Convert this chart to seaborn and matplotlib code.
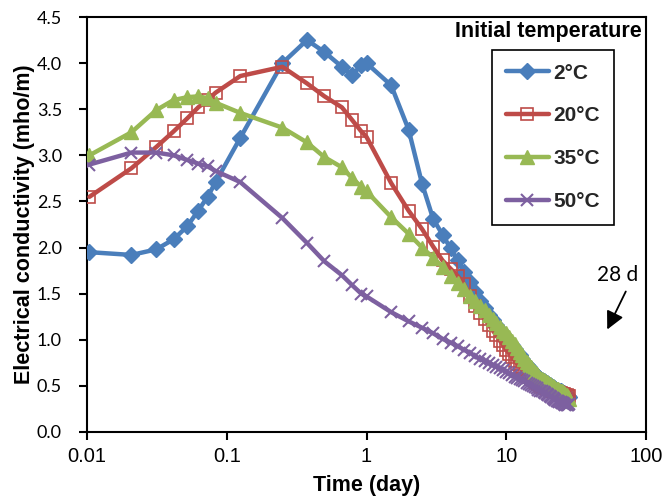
import numpy as np
import pandas as pd
import matplotlib
matplotlib.use("Agg")
import matplotlib.pyplot as plt
import seaborn as sns
from matplotlib.lines import Line2D
from matplotlib.ticker import NullLocator, FixedLocator, FixedFormatter, FormatStrFormatter

# ---------------- data ----------------
time_days = [0.0104, 0.0208, 0.0313, 0.0417, 0.0521, 0.0625, 0.0729, 0.0833,
             0.125, 0.25, 0.375, 0.5, 0.667, 0.792, 0.917, 1.0,
             1.5, 2.0, 2.5, 3.0, 3.5, 4.0, 4.5, 5.0, 5.5, 6.0, 6.5, 7.0, 7.5,
             8.0, 8.5, 9.0, 9.5, 10.0, 10.5, 11.0, 11.5, 12.0, 12.5, 13.0,
             13.5, 14.0, 14.5, 15.0, 15.5, 16.0, 16.5, 17.0, 17.5, 18.0, 18.5,
             19.0, 19.5, 20.0, 20.5, 21.0, 21.5, 22.0, 22.5, 23.0, 23.5, 24.0,
             24.5, 25.0, 25.5, 26.0, 26.5, 27.0, 27.5, 28.0]

ec_2C = [1.95, 1.92, 1.98, 2.09, 2.23, 2.40, 2.55, 2.71, 3.19, 4.00, 4.25, 4.12,
         3.96, 3.87, 3.98, 4.00,
         3.76, 3.28, 2.69, 2.31, 2.14, 1.99, 1.86, 1.74, 1.63, 1.52, 1.42, 1.34,
         1.27, 1.21, 1.16, 1.11, 1.06, 1.02, 0.98, 0.94, 0.90, 0.86, 0.83, 0.79,
         0.76, 0.73, 0.70, 0.67, 0.65, 0.63, 0.61, 0.59, 0.57, 0.56, 0.55, 0.54,
         0.53, 0.52, 0.51, 0.50, 0.49, 0.48, 0.47, 0.46, 0.45, 0.45, 0.44, 0.43,
         0.42, 0.42, 0.41, 0.40, 0.39, 0.38]

ec_20C = [2.55, 2.86, 3.09, 3.26, 3.40, 3.52, 3.60, 3.68, 3.86, 3.96, 3.78, 3.64,
          3.52, 3.38, 3.26, 3.20,
          2.70, 2.40, 2.20, 2.01, 1.86, 1.77, 1.69, 1.60, 1.48, 1.37, 1.29, 1.23,
          1.16, 1.10, 1.05, 0.99, 0.94, 0.89, 0.85, 0.81, 0.77, 0.74, 0.71, 0.68,
          0.65, 0.62, 0.60, 0.58, 0.56, 0.54, 0.53, 0.52, 0.50, 0.49, 0.485, 0.48,
          0.47, 0.465, 0.46, 0.45, 0.45, 0.44, 0.44, 0.435, 0.43, 0.425, 0.42, 0.415,
          0.41, 0.41, 0.40, 0.40, 0.395, 0.39]

ec_35C = [3.00, 3.25, 3.49, 3.60, 3.63, 3.64, 3.62, 3.57, 3.46, 3.30, 3.14, 2.98,
          2.87, 2.75, 2.66, 2.61,
          2.33, 2.15, 2.00, 1.89, 1.79, 1.69, 1.62, 1.55, 1.48, 1.42, 1.37, 1.32,
          1.27, 1.22, 1.18, 1.14, 1.10, 1.07, 1.03, 0.99, 0.95, 0.91, 0.87, 0.83,
          0.79, 0.76, 0.73, 0.70, 0.67, 0.65, 0.63, 0.61, 0.59, 0.58, 0.56, 0.55,
          0.54, 0.53, 0.52, 0.51, 0.50, 0.49, 0.48, 0.47, 0.47, 0.46, 0.45, 0.44,
          0.43, 0.42, 0.41, 0.40, 0.38, 0.36]

ec_50C = [2.90, 3.03, 3.03, 3.00, 2.95, 2.91, 2.88, 2.83, 2.71, 2.32, 2.05, 1.85,
          1.70, 1.59, 1.50, 1.47,
          1.30, 1.20, 1.13, 1.07, 1.01, 0.97, 0.93, 0.89, 0.86, 0.82, 0.79, 0.77,
          0.75, 0.73, 0.71, 0.69, 0.67, 0.65, 0.64, 0.62, 0.60, 0.59, 0.57, 0.56,
          0.55, 0.53, 0.52, 0.51, 0.50, 0.49, 0.48, 0.46, 0.45, 0.44, 0.43, 0.42,
          0.41, 0.40, 0.39, 0.38, 0.37, 0.36, 0.35, 0.34, 0.34, 0.33, 0.32, 0.31,
          0.31, 0.30, 0.29, 0.29, 0.29, 0.30]

series_labels = ["2°C", "20°C", "35°C", "50°C"]
x_tick_values = [0.01, 0.1, 1, 10, 100]
x_tick_labels = ["0.01", "0.1", "1", "10", "100"]
y_tick_values = [0.0, 0.5, 1.0, 1.5, 2.0, 2.5, 3.0, 3.5, 4.0, 4.5]

# ---------------- styling ----------------
sns.set_theme(style="white")
plt.rcParams["font.family"] = ["Liberation Sans", "DejaVu Sans"]

colors = ["#4A7EBB", "#BE4B48", "#98B954", "#7D60A0"]
markers = ["D", "s", "^", "x"]
msizes = [8, 9, 9.5, 8.5]
mfcs = ["#4A7EBB", "none", "#98B954", "#7D60A0"]
mews = [1.0, 1.2, 1.0, 1.5]

fig = plt.figure(figsize=(6.62, 4.96), dpi=100)
ax = fig.add_axes([87 / 662, 64 / 496, 559 / 662, 415 / 496])
ax.set_xscale("log")

all_series = [ec_2C, ec_20C, ec_35C, ec_50C]
for i, vals in enumerate(all_series):
    df = pd.DataFrame({"time": time_days, "ec": vals})
    sns.lineplot(data=df, x="time", y="ec", ax=ax, color=colors[i], lw=3.2,
                 marker=markers[i], markersize=msizes[i], mfc=mfcs[i],
                 mec=colors[i], mew=mews[i], sort=False, legend=False,
                 zorder=3 + i)

ax.set_xlim(0.01, 100)
ax.set_ylim(0, 4.5)
ax.xaxis.set_major_locator(FixedLocator(x_tick_values))
ax.xaxis.set_major_formatter(FixedFormatter(x_tick_labels))
ax.xaxis.set_minor_locator(NullLocator())
ax.yaxis.set_major_locator(FixedLocator(y_tick_values))
ax.yaxis.set_major_formatter(FormatStrFormatter("%.1f"))

for s in ax.spines.values():
    s.set_color("black")
    s.set_linewidth(1.5)
ax.tick_params(axis="both", which="major", direction="out", length=6, width=1.5,
               color="black", left=True, bottom=True)
ax.tick_params(axis="y", pad=12)
ax.tick_params(axis="x", pad=5)
for lab in ax.get_xticklabels():
    lab.set_fontsize(14.5)
    lab.set_color("black")
for lab in ax.get_yticklabels():
    lab.set_fontsize(13)
    lab.set_family(["Lato", "DejaVu Sans"])
    lab.set_color("black")

ax.set_xlabel("Time (day)", fontsize=15.5, fontweight="bold", color="black", labelpad=6)
ax.set_ylabel("Electrical conductivity (mho/m)", fontsize=15.5, fontweight="bold",
              color="black", labelpad=1)

# legend
handles = [Line2D([], [], color=colors[i], lw=3.2, marker=markers[i],
                  markersize=msizes[i], mfc=mfcs[i], mec=colors[i], mew=mews[i])
           for i in range(4)]
leg = ax.legend(handles, series_labels, loc="upper left",
                bbox_to_anchor=((492 - 87) / 559, (432 - 50) / 415),
                borderaxespad=0, frameon=True, fancybox=False, shadow=False,
                prop={"weight": "bold", "size": 15}, handlelength=2.1,
                handletextpad=0.2, labelspacing=1.15, borderpad=0.65,
                numpoints=1)
leg.get_frame().set_edgecolor("black")
leg.get_frame().set_linewidth(1.2)
leg.get_frame().set_alpha(1)

ax.text((548 - 87) / 559, (432 - 31) / 415, "Initial temperature",
        transform=ax.transAxes, ha="center", va="center", fontsize=15.5,
        fontweight="bold", color="black")

# 28 d annotation
ax.annotate("", xy=((606 - 87) / 559, (432 - 332) / 415),
            xytext=((627 - 87) / 559, (432 - 289) / 415),
            xycoords="axes fraction", textcoords="axes fraction",
            arrowprops=dict(arrowstyle="-|>,head_length=0.9,head_width=0.45",
                            color="black", lw=1.3), annotation_clip=False)
ax.text((618 - 87) / 559, (432 - 275) / 415, "28 d", transform=ax.transAxes,
        ha="center", va="center", fontsize=15, family=["Lato", "DejaVu Sans"],
        color="black", zorder=10, clip_on=False,
        bbox=dict(facecolor="white", edgecolor="none", pad=1.5))

fig.savefig("out.png", dpi=100)
